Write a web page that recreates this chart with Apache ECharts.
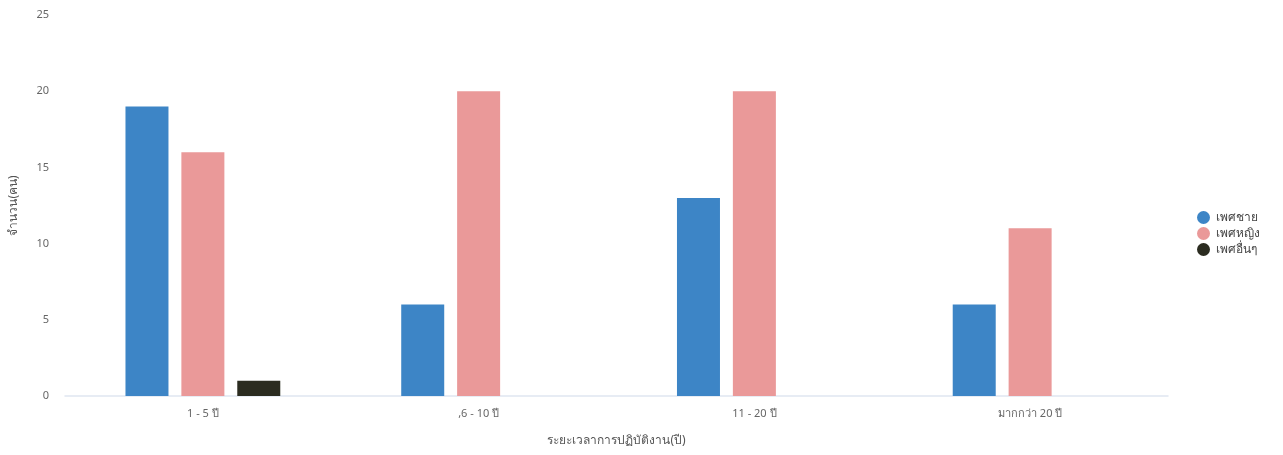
<!DOCTYPE html>
<html><head><meta charset="utf-8">
<script src="https://cdn.jsdelivr.net/npm/echarts@6/dist/echarts.min.js"></script>
<style>html,body{margin:0;padding:0;background:#fff}#c{width:1283px;height:455px}</style>
</head><body><div id="c"></div>
<script>
const categories = ['1 - 5 ปี', ',6 - 10 ปี', '11 - 20 ปี', 'มากกว่า 20 ปี'];
const seriesNames = ['เพศชาย', 'เพศหญิง', 'เพศอื่นๆ'];
const male = [19, 6, 13, 6];
const female = [16, 20, 20, 11];
const other = [1, 0, 0, 0];
const colors = ['#3d85c6', '#ea9999', '#2b2c20'];

const chart = echarts.init(document.getElementById('c'));
const font = 'Noto Sans, sans-serif';
chart.setOption({
  animation: false,
  color: colors,
  textStyle: { fontFamily: font },
  grid: { left: 63, right: 115, top: 15, bottom: 59 },
  legend: {
    orient: 'vertical', left: 1192, top: 206,
    icon: 'circle', itemWidth: 14, itemHeight: 13, itemGap: 3,
    textStyle: { color: '#444', fontSize: 12 },
    data: seriesNames
  },
  xAxis: {
    type: 'category', data: categories,
    name: 'ระยะเวลาการปฏิบัติงาน(ปี)', nameLocation: 'middle', nameGap: 39,
    nameTextStyle: { color: '#555', fontSize: 12 },
    axisLine: { lineStyle: { color: '#e0e6f1', width: 1.5 } },
    axisTick: { show: false },
    axisLabel: { color: '#666', fontSize: 11, margin: 12 }
  },
  yAxis: {
    type: 'value', min: 0, max: 25, interval: 5,
    name: 'จำนวน(คน)', nameLocation: 'middle', nameGap: 45, nameRotate: 90,
    nameTextStyle: { color: '#555', fontSize: 12 },
    axisLine: { show: false }, axisTick: { show: false },
    splitLine: { show: false },
    axisLabel: { color: '#666', fontSize: 11, margin: 16 }
  },
  series: [
    { name: seriesNames[0], type: 'bar', data: male, barWidth: 43, barGap: '30%' },
    { name: seriesNames[1], type: 'bar', data: female, barWidth: 43, barGap: '30%' },
    { name: seriesNames[2], type: 'bar', data: other, barWidth: 43, barGap: '30%' }
  ]
});
</script></body></html>
